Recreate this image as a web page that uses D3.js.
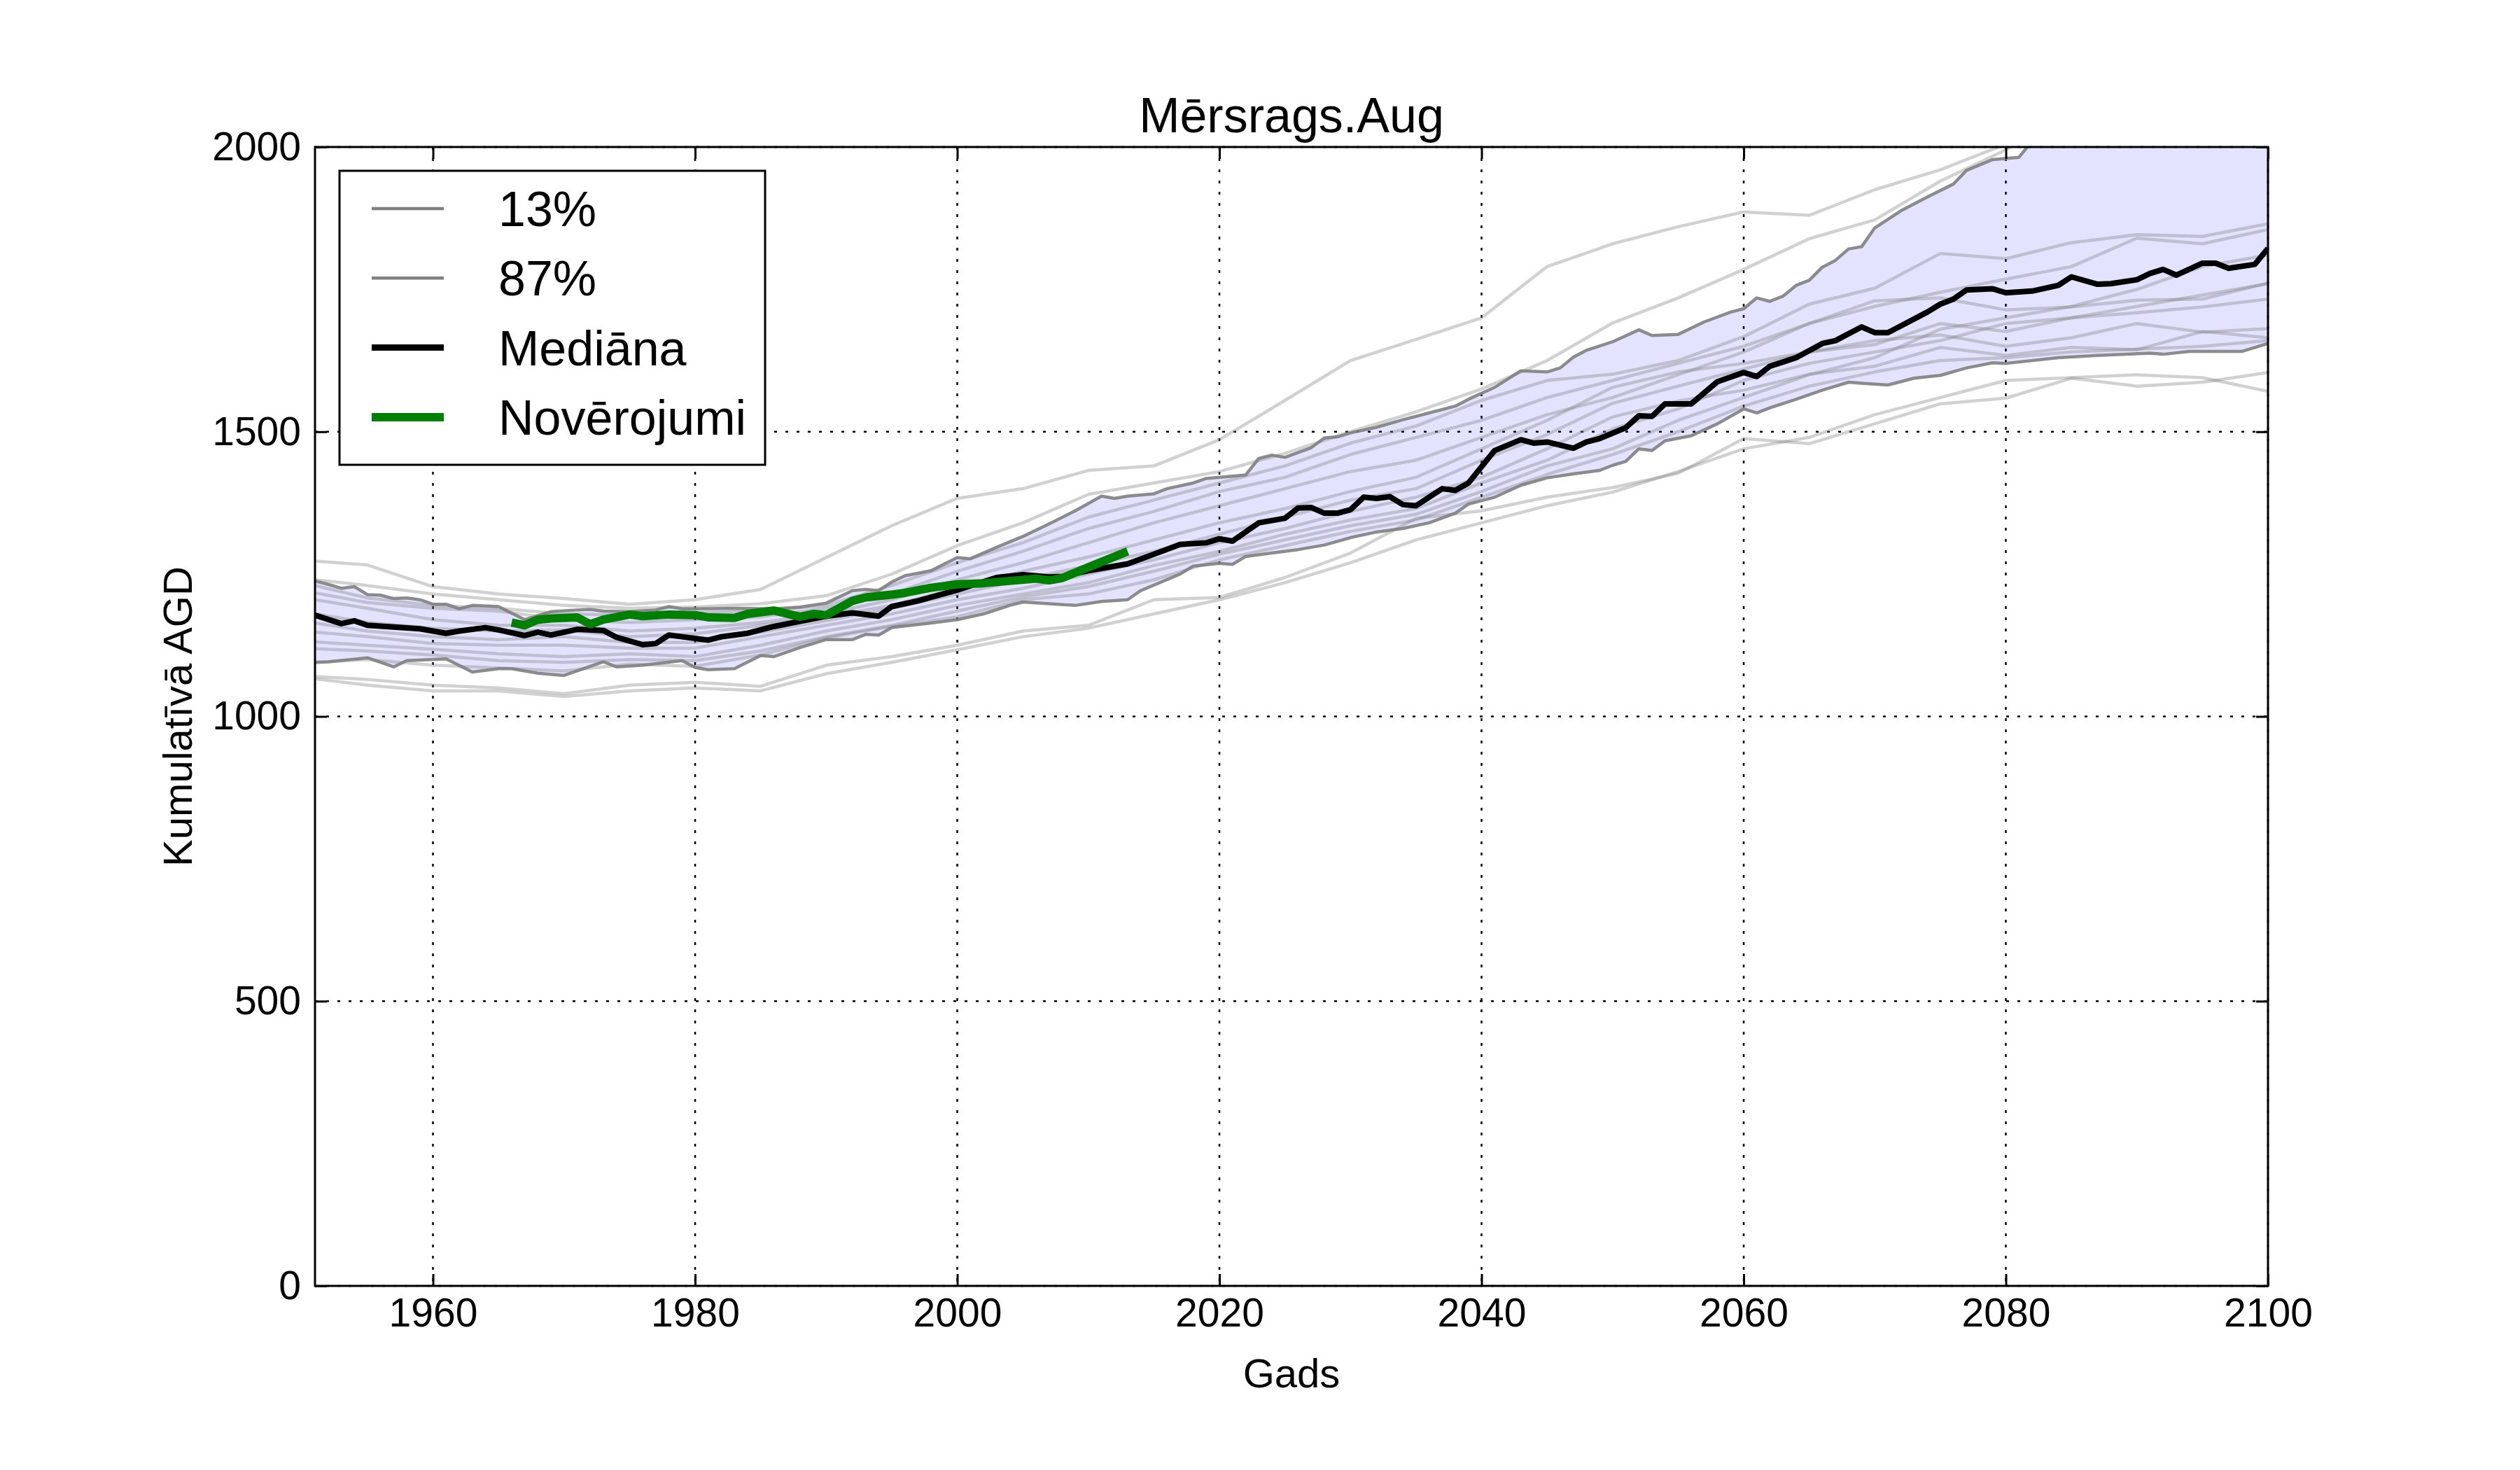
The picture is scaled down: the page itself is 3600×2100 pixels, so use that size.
<!DOCTYPE html>
<html>
<head>
	<meta charset="utf-8">
	<title>Mērsrags.Aug</title>
	<script src="https://d3js.org/d3.v7.min.js"></script>
	<style>
		body { margin: 0; background: #fff; }
		text { font-family: "Liberation Sans", Arial, sans-serif; fill: #000; }
	</style>
</head>
<body>
<script>

// x axis ticks, y axis ticks
var xTicks = [1960, 1980, 2000, 2020, 2040, 2060, 2080, 2100]
var yTicks = [0, 500, 1000, 1500, 2000]

// median of the ensemble [year, value]
var median = [[1951,1178],[1953,1163],[1954,1168],[1955,1160],[1957,1157],[1959,1154],[1961,1146],[1962,1150],[1964,1156],[1965,1152],
	[1967,1142],[1968,1148],[1969,1143],[1971,1153],[1973,1151],[1974,1139],[1976,1126],[1977,1128],[1978,1143],[1979,1140],
	[1981,1134],[1982,1140],[1984,1146],[1986,1158],[1988,1167],[1990,1176],[1992,1182],[1994,1176],[1995,1193],[1997,1203],
	[2000,1222],[2003,1244],[2005,1249],[2007,1245],[2008,1246],[2010,1256],[2012,1264],[2013,1268],[2015,1285],[2017,1302],
	[2019,1305],[2020,1312],[2021,1308],[2023,1340],[2025,1348],[2026,1366],[2027,1367],[2028,1357],[2029,1357],[2030,1363],
	[2031,1385],[2032,1383],[2033,1386],[2034,1372],[2035,1370],[2037,1400],[2038,1397],[2039,1410],[2041,1467],[2043,1486],
	[2044,1480],[2045,1482],[2047,1471],[2048,1482],[2049,1488],[2051,1507],[2052,1528],[2053,1527],[2054,1549],[2056,1549],
	[2058,1588],[2060,1604],[2061,1597],[2062,1615],[2064,1630],[2066,1655],[2067,1660],[2069,1684],[2070,1674],[2071,1674],
	[2072,1686],[2074,1710],[2075,1724],[2076,1733],[2077,1749],[2079,1751],[2080,1744],[2082,1747],[2084,1757],[2085,1772],
	[2087,1759],[2088,1760],[2090,1767],[2091,1778],[2092,1785],[2093,1775],[2095,1796],[2096,1796],[2097,1787],[2099,1794],[2100,1822]]

// 87% percentile
var p87 = [[1951,1238],[1952,1232],[1953,1225],[1954,1228],[1955,1214],[1956,1213],[1957,1207],[1958,1208],[1959,1205],[1960,1197],
	[1961,1197],[1962,1189],[1963,1195],[1965,1193],[1967,1170],[1969,1184],[1971,1187],[1972,1188],[1973,1185],[1975,1184],
	[1977,1187],[1978,1193],[1979,1189],[1980,1189],[1983,1190],[1986,1189],[1988,1192],[1990,1199],[1992,1221],[1993,1223],
	[1994,1221],[1995,1236],[1996,1247],[1998,1256],[2000,1279],[2001,1277],[2003,1297],[2005,1316],[2007,1338],[2009,1361],
	[2011,1387],[2012,1383],[2013,1387],[2015,1391],[2016,1400],[2018,1410],[2019,1418],[2021,1422],[2022,1424],[2023,1453],
	[2024,1459],[2025,1455],[2027,1472],[2028,1489],[2029,1491],[2030,1498],[2032,1508],[2034,1521],[2038,1545],[2039,1557],
	[2041,1578],[2043,1607],[2045,1605],[2046,1612],[2047,1631],[2048,1643],[2050,1658],[2052,1679],[2053,1669],[2055,1671],
	[2057,1693],[2059,1710],[2060,1716],[2061,1735],[2062,1729],[2063,1738],[2064,1757],[2065,1766],[2066,1789],[2067,1801],
	[2068,1821],[2069,1825],[2070,1858],[2072,1888],[2074,1912],[2076,1935],[2077,1959],[2079,1978],[2081,1982],[2082,2010],
	[2085,2040],[2090,2075],[2095,2100],[2100,2130]]

// 13% percentile
var p13 = [[1951,1095],[1952,1096],[1955,1103],[1957,1087],[1958,1098],[1961,1101],[1963,1078],[1965,1084],[1966,1084],[1968,1076],
	[1970,1072],[1973,1096],[1974,1087],[1976,1090],[1979,1098],[1980,1086],[1981,1082],[1983,1084],[1985,1107],[1986,1105],
	[1988,1121],[1990,1135],[1992,1135],[1993,1144],[1994,1143],[1995,1156],[1998,1164],[2000,1170],[2002,1180],[2004,1195],
	[2005,1201],[2009,1195],[2011,1202],[2013,1205],[2014,1221],[2017,1250],[2018,1264],[2020,1269],[2021,1267],[2022,1281],
	[2024,1287],[2026,1293],[2028,1301],[2030,1314],[2032,1324],[2034,1330],[2036,1340],[2038,1357],[2039,1373],[2041,1385],
	[2043,1406],[2045,1419],[2047,1426],[2049,1432],[2050,1441],[2051,1448],[2052,1470],[2053,1467],[2054,1484],[2056,1493],
	[2058,1514],[2060,1540],[2061,1533],[2062,1542],[2064,1557],[2066,1573],[2068,1587],[2069,1585],[2071,1582],[2073,1594],
	[2075,1599],[2077,1612],[2079,1621],[2080,1620],[2084,1630],[2087,1634],[2091,1638],[2092,1636],[2094,1641],[2098,1641],[2100,1655]]

// observations (Novērojumi)
var obs = [[1966,1165],[1967,1160],[1968,1170],[1969,1172],[1971,1174],[1972,1162],[1973,1170],[1975,1179],[1976,1176],[1978,1179],
	[1980,1178],[1981,1174],[1983,1173],[1984,1180],[1986,1186],[1988,1175],[1989,1180],[1990,1178],[1992,1203],[1993,1209],
	[1995,1214],[1996,1217],[1998,1226],[2000,1232],[2002,1234],[2004,1238],[2006,1242],[2007,1239],[2008,1243],[2010,1262],[2013,1290]]

// ensemble members, values at these years
var memberYears = [1951,1955,1960,1965,1970,1975,1980,1985,1990,1995,2000,2005,2010,2015,2020,2025,2030,2035,2040,2045,2050,2055,2060,2065,2070,2075,2080,2085,2090,2095,2100]
var members = [
	[1273,1266,1228,1215,1207,1197,1205,1223,1279,1335,1383,1400,1432,1440,1486,1555,1625,1662,1700,1790,1830,1860,1886,1880,1925,1960,2005,2060,2110,2150,2200],
	[1240,1230,1215,1205,1195,1190,1192,1198,1212,1250,1300,1340,1390,1410,1430,1462,1500,1535,1575,1625,1691,1735,1785,1839,1872,1940,1995,2060,2100,2140,2180],
	[1230,1208,1195,1190,1180,1178,1182,1185,1195,1230,1270,1305,1350,1380,1410,1440,1480,1510,1555,1590,1601,1625,1667,1724,1752,1813,1804,1832,1846,1843,1865],
	[1217,1200,1190,1185,1170,1165,1170,1175,1190,1215,1255,1290,1330,1360,1395,1420,1460,1490,1520,1560,1590,1620,1650,1690,1720,1745,1768,1790,1840,1830,1855],
	[1205,1190,1170,1160,1160,1150,1155,1165,1180,1205,1240,1270,1305,1340,1370,1400,1430,1450,1490,1530,1560,1600,1640,1690,1730,1735,1714,1719,1731,1733,1761],
	[1180,1165,1155,1150,1152,1140,1145,1160,1175,1195,1225,1255,1280,1310,1340,1365,1395,1420,1470,1520,1578,1605,1620,1640,1653,1690,1676,1700,1709,1719,1733],
	[1164,1150,1140,1135,1140,1130,1130,1148,1168,1190,1215,1240,1265,1290,1320,1350,1380,1400,1450,1495,1550,1580,1610,1640,1660,1670,1650,1665,1690,1675,1681],
	[1148,1140,1128,1125,1125,1120,1120,1140,1160,1180,1205,1225,1250,1275,1305,1330,1360,1385,1420,1470,1526,1554,1573,1601,1615,1648,1634,1648,1644,1676,1665],
	[1131,1125,1118,1110,1105,1110,1105,1125,1150,1170,1195,1215,1235,1265,1290,1320,1345,1365,1410,1450,1505,1540,1590,1620,1640,1660,1690,1700,1720,1740,1760],
	[1119,1115,1108,1098,1095,1100,1098,1115,1140,1160,1185,1210,1228,1255,1285,1310,1335,1355,1395,1440,1470,1520,1560,1600,1630,1680,1700,1720,1750,1790,1810],
	[1095,1100,1090,1085,1080,1092,1088,1108,1138,1158,1175,1205,1215,1240,1275,1300,1325,1345,1385,1425,1460,1500,1545,1580,1605,1625,1630,1640,1645,1650,1660],
	[1070,1065,1055,1050,1040,1055,1060,1053,1090,1105,1125,1150,1160,1205,1209,1244,1287,1348,1361,1385,1402,1427,1488,1479,1514,1549,1559,1594,1580,1587,1604],
	[1066,1055,1045,1045,1035,1045,1050,1045,1075,1095,1117,1140,1155,1180,1205,1235,1270,1310,1340,1370,1394,1430,1470,1490,1530,1560,1590,1595,1600,1595,1571]
]

var legendItems = [
	{label: "13%", color: "#808080", width: 4.5},
	{label: "87%", color: "#808080", width: 4.5},
	{label: "Mediāna", color: "#000000", width: 9},
	{label: "Novērojumi", color: "#008000", width: 12}
]

// plot frame in pixels
var plotL = 450, plotR = 3240, plotT = 210, plotB = 1837

var svg = d3.select("body").append("svg")
	.attr("width", 3600)
	.attr("height", 2100)

var x = d3.scaleLinear().domain([1951, 2100]).range([plotL, plotR])
var y = d3.scaleLinear().domain([0, 2000]).range([plotB, plotT])

svg.append("defs").append("clipPath").attr("id", "plotclip")
	.append("rect").attr("x", plotL).attr("y", plotT).attr("width", plotR - plotL).attr("height", plotB - plotT)

// grid
var grid = svg.append("g")
	.attr("stroke", "#000").attr("stroke-width", 2.5).attr("stroke-dasharray", "4,12")
grid.selectAll(".gx").data(xTicks).enter().append("line")
	.attr("x1", function(d){ return x(d) }).attr("x2", function(d){ return x(d) })
	.attr("y1", plotT).attr("y2", plotB)
grid.selectAll(".gy").data(yTicks).enter().append("line")
	.attr("x1", plotL).attr("x2", plotR)
	.attr("y1", function(d){ return y(d) }).attr("y2", function(d){ return y(d) })

var plot = svg.append("g").attr("clip-path", "url(#plotclip)")

// band between 13% and 87%
var upperAt = d3.scaleLinear().domain(p87.map(function(d){ return d[0] })).range(p87.map(function(d){ return d[1] }))
var lowerAt = d3.scaleLinear().domain(p13.map(function(d){ return d[0] })).range(p13.map(function(d){ return d[1] }))
var bandYears = d3.merge([p13.map(function(d){ return d[0] }), p87.map(function(d){ return d[0] })])
bandYears = Array.from(new Set(bandYears)).sort(d3.ascending)

plot.append("path")
	.datum(bandYears)
	.attr("fill", "blue").attr("fill-opacity", 0.11)
	.attr("d", d3.area()
		.x(function(d){ return x(d) })
		.y0(function(d){ return y(lowerAt(d)) })
		.y1(function(d){ return y(upperAt(d)) }))

var line = d3.line()
	.x(function(d){ return x(d[0]) })
	.y(function(d){ return y(d[1]) })

// ensemble members
plot.selectAll(".member").data(members).enter().append("path")
	.attr("fill", "none").attr("stroke", "#808080").attr("stroke-opacity", 0.36)
	.attr("stroke-width", 4.5).attr("stroke-linejoin", "round")
	.attr("d", function(m){ return line(m.map(function(v, i){ return [memberYears[i], v] })) })

// percentile lines
;[p13, p87].forEach(function(s){
	plot.append("path").datum(s)
		.attr("fill", "none").attr("stroke", "#808080").attr("stroke-opacity", 0.9)
		.attr("stroke-width", 4.5).attr("stroke-linejoin", "round")
		.attr("d", line)
})

plot.append("path").datum(median)
	.attr("fill", "none").attr("stroke", "#000").attr("stroke-width", 8).attr("stroke-linejoin", "round")
	.attr("d", line)

plot.append("path").datum(obs)
	.attr("fill", "none").attr("stroke", "#008000").attr("stroke-width", 12).attr("stroke-linejoin", "round")
	.attr("d", line)

// axes, ticks pointing inward
function styleAxis(g){
	g.select(".domain").remove()
	g.selectAll(".tick line").attr("stroke", "#000").attr("stroke-width", 3)
	g.selectAll(".tick text").style("font-size", "57px").style("font-family", "'Liberation Sans', Arial, sans-serif").attr("fill", "#000")
}

svg.append("g").attr("transform", "translate(0," + plotB + ")")
	.call(d3.axisBottom(x).tickValues(xTicks).tickSize(-17).tickPadding(18).tickFormat(d3.format("d")))
	.call(styleAxis)
svg.append("g").attr("transform", "translate(0," + plotT + ")")
	.call(d3.axisTop(x).tickValues(xTicks).tickSize(-17).tickFormat(""))
	.call(styleAxis)
svg.append("g").attr("transform", "translate(" + plotL + ",0)")
	.call(d3.axisLeft(y).tickValues(yTicks).tickSize(-17).tickPadding(20).tickFormat(d3.format("d")))
	.call(styleAxis)
svg.append("g").attr("transform", "translate(" + plotR + ",0)")
	.call(d3.axisRight(y).tickValues(yTicks).tickSize(-17).tickFormat(""))
	.call(styleAxis)

svg.append("rect")
	.attr("x", plotL).attr("y", plotT).attr("width", plotR - plotL).attr("height", plotB - plotT)
	.attr("fill", "none").attr("stroke", "#000").attr("stroke-width", 3)

// texts
svg.append("text").attr("x", (plotL + plotR) / 2).attr("y", 189)
	.attr("text-anchor", "middle").style("font-size", "70px").text("Mērsrags.Aug")
svg.append("text").attr("x", (plotL + plotR) / 2).attr("y", 1982)
	.attr("text-anchor", "middle").style("font-size", "58px").text("Gads")
svg.append("text").attr("transform", "translate(274," + ((plotT + plotB) / 2) + ") rotate(-90)")
	.attr("text-anchor", "middle").style("font-size", "58px").text("Kumulatīvā AGD")

// legend
var legend = svg.append("g")
legend.append("rect").attr("x", 485).attr("y", 244).attr("width", 608).attr("height", 420)
	.attr("fill", "#fff").attr("stroke", "#000").attr("stroke-width", 3)
var rows = legend.selectAll(".row").data(legendItems).enter().append("g")
	.attr("transform", function(d, i){ return "translate(0," + (298 + i * 99.3) + ")" })
rows.append("line").attr("x1", 531).attr("x2", 634).attr("y1", 0).attr("y2", 0)
	.attr("stroke", function(d){ return d.color }).attr("stroke-width", function(d){ return d.width })
rows.append("text").attr("x", 712).attr("y", 25).style("font-size", "70px")
	.text(function(d){ return d.label })

</script>
</body>
</html>
